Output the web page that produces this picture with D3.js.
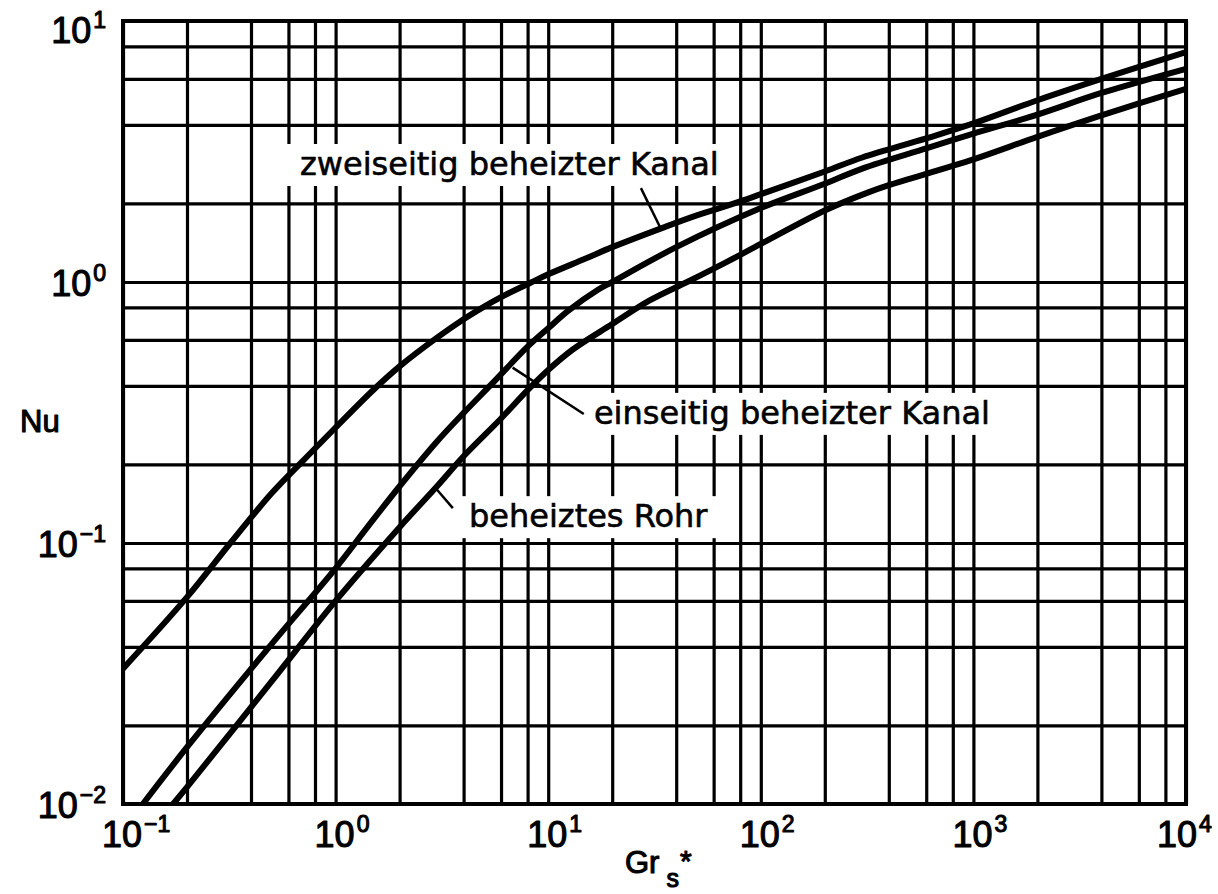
<!DOCTYPE html>
<html><head><meta charset="utf-8">
<script src="https://cdn.jsdelivr.net/npm/d3@7"></script>
<style>body{margin:0;background:#fff}</style>
</head><body>
<svg id="chart" width="1218" height="894"></svg>
<script>
// ---- data ----
const xDecades = [0.1, 1, 10, 100, 1000, 10000];
const xExponents = ["\u22121", "0", "1", "2", "3", "4"];
const yDecades = [0.01, 0.1, 1, 10];
const yExponents = ["\u22122", "\u22121", "0", "1"];
const gridMultipliers = [1, 2, 4, 6, 8];

// Gr*_s , Nu
const zweiseitig = [[0.1,0.033],[0.2,0.062],[0.32,0.1],[0.5,0.155],[0.7,0.206],[1,0.277],[1.5,0.385],[2,0.475],[3,0.612],[4,0.72],[5,0.805],[6,0.875],[8.3,0.995],[10,1.07],[15,1.23],[20,1.36],[35,1.62],[50,1.8],[75,2.0],[100,2.17],[200,2.65],[300,3.0],[600,3.55],[1000,4.05],[2000,4.97],[4000,6.0],[10000,7.6]];
const einseitig = [[0.124,0.01],[0.2,0.0165],[0.5,0.041],[1,0.08],[1.4,0.114],[2,0.165],[3,0.245],[4,0.315],[5.4,0.405],[8,0.565],[10,0.665],[12.4,0.775],[17,0.93],[20,1.0],[40,1.36],[100,1.92],[200,2.38],[300,2.72],[600,3.25],[1000,3.7],[2000,4.38],[4000,5.3],[10000,6.56]];
const rohr = [[0.172,0.01],[0.2,0.0116],[0.5,0.0295],[1,0.06],[2,0.115],[3,0.165],[4,0.215],[6,0.3],[8,0.385],[10,0.46],[13,0.55],[20,0.69],[30,0.85],[45,1.0],[70,1.2],[100,1.4],[200,1.88],[318,2.2],[400,2.35],[1000,2.95],[2000,3.6],[4000,4.35],[10000,5.5]];

const curveLabels = [
  {text: "zweiseitig beheizter Kanal", gr: 0.68, nu: 2.57, from: [27.3, 2.29], to: [33.6, 1.62], pad: [14, 5]},
  {text: "einseitig beheizter Kanal", gr: 16.4, nu: 0.286, from: [14.7, 0.312], to: [6.8, 0.47], pad: [20, 6]},
  {text: "beheiztes Rohr", gr: 4.24, nu: 0.115, from: [3.56, 0.136], to: [3.0, 0.16], pad: [10, 10]}
];

// ---- layout ----
const svg = d3.select("#chart");
const x = d3.scaleLog().domain([0.1, 10000]).range([123, 1186]);
const y = d3.scaleLog().domain([0.01, 10]).range([804, 21]);
const X0 = x(0.1), X1 = x(10000), Y0 = y(0.01), Y1 = y(10);

svg.append("rect").attr("width",1218).attr("height",894).attr("fill","#fff");

const gridX = [], gridY = [];
xDecades.slice(0,-1).forEach(d => gridMultipliers.forEach(m => gridX.push(d*m)));
gridX.push(10000);
yDecades.slice(0,-1).forEach(d => gridMultipliers.forEach(m => gridY.push(d*m)));
gridY.push(10);

const gx = svg.append("g").attr("transform", `translate(0,${Y0})`)
  .call(d3.axisBottom(x).tickValues(gridX).tickSize(-(Y0 - Y1)).tickFormat(""));
gx.select(".domain").remove();
gx.selectAll("line").attr("stroke","#000").attr("stroke-width",3.2);

const gy = svg.append("g").attr("transform", `translate(${X0},0)`)
  .call(d3.axisLeft(y).tickValues(gridY).tickSize(-(X1 - X0)).tickFormat(""));
gy.select(".domain").remove();
gy.selectAll("line").attr("stroke","#000").attr("stroke-width",3.2);

// frame
svg.append("rect").attr("x",X0).attr("y",Y1).attr("width",X1-X0).attr("height",Y0-Y1)
  .attr("fill","none").attr("stroke","#000").attr("stroke-width",4);

const tickFont = "'Liberation Sans', Arial, sans-serif";

function heavy(sel, w) {
  return sel.attr("fill","#000").attr("stroke","#000").attr("stroke-width", w)
            .attr("paint-order","stroke").attr("stroke-linejoin","round");
}

// x tick labels
xDecades.forEach((d,i) => {
  const t = heavy(svg.append("text").attr("x", x(d) - 21).attr("y", 847)
    .attr("font-family", tickFont).attr("font-size", 36), 1.1);
  t.append("tspan").text("10");
  t.append("tspan").attr("dy", -15).attr("font-size", 23).attr("dx", 2).text(xExponents[i]);
  const bb = t.node().getBBox();
  if (bb.x + bb.width > 1212) t.attr("x", x(d) - 21 - (bb.x + bb.width - 1212));
});

// y tick labels
yDecades.forEach((d,i) => {
  const t = heavy(svg.append("text").attr("x", 106).attr("y", Math.max(y(d) + 14, 43))
    .attr("text-anchor","end")
    .attr("font-family", tickFont).attr("font-size", 36), 1.1);
  t.append("tspan").text("10");
  t.append("tspan").attr("dy", -15).attr("font-size", 23).attr("dx", 2).text(yExponents[i]);
});

// axis titles
heavy(svg.append("text").attr("x", 20).attr("y", 432).attr("font-family", tickFont)
  .attr("font-size", 31), 1.1).text("Nu");
const gr = heavy(svg.append("text").attr("x", 625).attr("y", 873).attr("font-family", tickFont)
  .attr("font-size", 31), 1.1);
gr.append("tspan").text("Gr");
gr.append("tspan").attr("dx", 7).attr("dy", 14).attr("font-size", 25).text("s");
gr.append("tspan").attr("dx", 1).attr("dy", -16).attr("font-size", 30).text("*");

// label boxes + text
const labelFont = "'DejaVu Sans', sans-serif";
curveLabels.forEach(l => {
  const g = svg.append("g");
  const box = g.append("rect").attr("fill","#fff");
  const t = heavy(g.append("text").attr("x", x(l.gr)).attr("y", y(l.nu))
    .attr("font-family", labelFont).attr("font-size", 32), 0.6).text(l.text);
  const bb = t.node().getBBox();
  box.attr("x", bb.x - l.pad[0]).attr("y", bb.y - 1)
     .attr("width", bb.width + l.pad[0] + l.pad[1]).attr("height", bb.height + 4);
});

// curves
const line = d3.line().x(d => x(d[0])).y(d => y(d[1])).curve(d3.curveCatmullRom.alpha(0.5));
svg.append("clipPath").attr("id","plot").append("rect")
  .attr("x",X0).attr("y",Y1).attr("width",X1-X0).attr("height",Y0-Y1);
[zweiseitig, einseitig, rohr].forEach(s => {
  svg.append("path").datum(s).attr("d", line).attr("clip-path","url(#plot)")
    .attr("fill","none").attr("stroke","#000").attr("stroke-width",6)
    .attr("stroke-linejoin","round");
});

// leader lines
curveLabels.forEach(l => {
  svg.append("line").attr("x1", x(l.from[0])).attr("y1", y(l.from[1]))
    .attr("x2", x(l.to[0])).attr("y2", y(l.to[1]))
    .attr("stroke","#000").attr("stroke-width",2.5);
});
</script>
</body></html>
